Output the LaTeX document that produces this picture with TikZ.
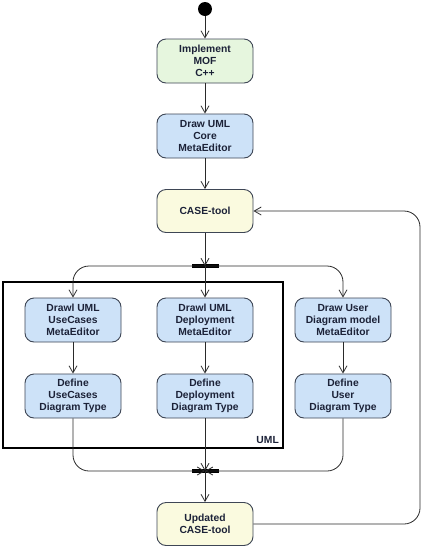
\documentclass[tikz,border=0pt]{standalone}
\usepackage{fontspec}
\setmainfont{Liberation Sans}
\usetikzlibrary{arrows.meta}
\definecolor{gfill}{HTML}{E6F6DE}
\definecolor{bfill}{HTML}{CDE2F8}
\definecolor{yfill}{HTML}{FAFADF}
\definecolor{bord}{HTML}{3E4655}
\definecolor{txt}{HTML}{1C2238}
\definecolor{lin}{HTML}{2A2A2A}
\tikzset{
  act/.style={draw=bord, line width=0.9pt, rounded corners=9pt, minimum width=96pt, minimum height=44pt,
    align=center, text=txt, font=\fontsize{10.3}{12}\selectfont\bfseries, inner sep=1pt},
  gact/.style={act, fill=gfill},
  bact/.style={act, fill=bfill},
  yact/.style={act, fill=yfill},
  bar/.style={fill=black, minimum width=27pt, minimum height=3.2pt, inner sep=0pt, draw=none},
  flow/.style={draw=lin, line width=0.8pt, -{Straight Barb[length=7pt,width=8pt,line width=0.8pt]}},
  plain/.style={draw=lin, line width=0.8pt},
}
\begin{document}
\begin{tikzpicture}[x=1pt,y=-1pt]
\useasboundingbox (0,0) rectangle (422,547);
\fill[white] (0,0) rectangle (422,547);
% UML frame
\draw[line width=1.8pt] (3,282) rectangle (283,448);
\node[anchor=south east, font=\fontsize{10.3}{12}\selectfont\bfseries, text=txt, inner sep=2pt] (umllbl) at (281,446) {UML};
% nodes
\node[circle, fill=black, minimum size=14pt, inner sep=0pt] (start) at (205,9) {};
\node[gact] (impl) at (205,61) {Implement\\MOF\\C++};
\node[bact] (core) at (205,136) {Draw UML\\Core\\MetaEditor};
\node[yact, minimum height=43pt] (case) at (205,211) {CASE-tool};
\node[bar] (fork) at (205,266) {};
\node[bact] (uc1) at (73,320) {Drawl UML\\UseCases\\MetaEditor};
\node[bact] (dep1) at (205,320) {Drawl UML\\Deployment\\MetaEditor};
\node[bact] (usr1) at (343,320) {Draw User\\Diagram model\\MetaEditor};
\node[bact] (uc2) at (73,396) {Define\\UseCases\\Diagram Type};
\node[bact] (dep2) at (205,396) {Define\\Deployment\\Diagram Type};
\node[bact] (usr2) at (343,396) {Define\\User\\Diagram Type};
\node[bar] (join) at (205,471) {};
\node[yact, minimum height=43pt] (upd) at (205,524) {Updated\\CASE-tool};
\coordinate (cb) at (420,524);
\coordinate (ct) at (420,211);
% edges
\draw[flow] (start) -- (impl);
\draw[flow] (impl) -- (core);
\draw[flow] (core) -- (case);
\draw[flow] (case) -- (fork.center);
\draw[flow] (fork.center) -- (dep1);
\draw[flow, rounded corners=16pt] (fork.center) -| (uc1.north);
\draw[flow, rounded corners=16pt] (fork.center) -| (usr1.north);
\draw[flow] (uc1) -- (uc2);
\draw[flow] (dep1) -- (dep2);
\draw[flow] (usr1) -- (usr2);
\draw[flow, rounded corners=16pt] (uc2.south) |- (join.center);
\draw[flow, rounded corners=16pt] (usr2.south) |- (join.center);
\draw[flow] (dep2) -- (join.center);
\draw[flow] (join.center) -- (upd);
\draw[flow, rounded corners=16pt] (upd.east) -- (cb) -- (ct) -- (case.east);
\end{tikzpicture}
\end{document}
